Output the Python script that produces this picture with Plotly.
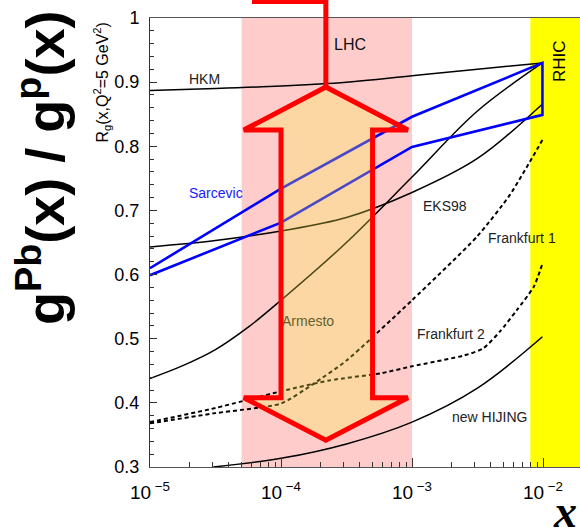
import plotly.graph_objects as go
import math

# ---------------- data ----------------
hkm_x = [1e-5, 3.16e-5, 1e-4, 3.16e-4, 1e-3, 3.16e-3, 0.0099]
hkm_y = [0.887, 0.890, 0.894, 0.900, 0.910, 0.920, 0.930]

sarc_x = [1e-5, 1e-4, 1e-3, 0.0099]
sarc_hi = [0.610, 0.734, 0.846, 0.930]
sarc_lo = [0.599, 0.681, 0.799, 0.849]

eks_x = [1e-5, 3.16e-5, 1e-4, 3.16e-4, 1e-3, 3.16e-3, 0.0099]
eks_y = [0.643, 0.653, 0.668, 0.689, 0.728, 0.781, 0.866]

arm_x = [1e-5, 1.78e-5, 3.16e-5, 5.62e-5, 1e-4, 3.16e-4, 1e-3, 3.16e-3, 0.0099]
arm_y = [0.438, 0.458, 0.483, 0.518, 0.560, 0.650, 0.752, 0.855, 0.930]

fr1_x = [1e-5, 3.16e-5, 1e-4, 1.78e-4, 3.16e-4, 1e-3, 3.16e-3, 5.62e-3, 0.0099]
fr1_y = [0.368, 0.384, 0.399, 0.430, 0.466, 0.560, 0.660, 0.725, 0.810]

fr2_x = [1e-5, 3.16e-5, 1e-4, 2.34e-4, 5.75e-4, 1e-3, 2.51e-3, 3.5e-3, 4.68e-3, 6.31e-3, 8.5e-3, 0.0099]
fr2_y = [0.370, 0.392, 0.418, 0.435, 0.446, 0.457, 0.474, 0.485, 0.511, 0.5445, 0.581, 0.617]

hij_x = [3.04e-5, 1e-4, 3.16e-4, 1e-3, 3.16e-3, 0.0099]
hij_y = [0.300, 0.3135, 0.336, 0.370, 0.423, 0.503]

# bands (x ranges)
lhc_band = [5e-5, 1e-3]
rhic_band = [8e-3, 0.0192]

# double arrow geometry (data units)
arrow_x = [2.2e-4, 9.3e-4, 5e-4, 5e-4, 9.3e-4, 2.2e-4, 5.2e-5, 1e-4, 1e-4, 5.2e-5, 2.2e-4]
arrow_y = [0.8924, 0.8253, 0.8253, 0.4080, 0.4080, 0.3417, 0.4080, 0.4080, 0.8253, 0.8253, 0.8924]
callout_x0 = 6.0e-5

# labels
lab_text = ["HKM", "Sarcevic", "EKS98", "Frankfurt 1", "Frankfurt 2", "new HIJING", "LHC"]
lab_x = [2.6e-5, 3.19e-5, 1.79e-3, 6.92e-3, 2.0e-3, 3.91e-3, 3.37e-4]
lab_y = [0.9056, 0.727, 0.7067, 0.6568, 0.507, 0.3775, 0.9594]
lab_col = ["#222", "#1a1aff", "#222", "#222", "#222", "#222", "#111"]

xtick_vals = [1e-5, 1e-4, 1e-3, 1e-2]
xtick_text = ["10<sup>\u00a0\u22125</sup>", "10<sup>\u00a0\u22124</sup>",
              "10<sup>\u00a0\u22123</sup>", "10<sup>\u00a0\u22122</sup>"]

XR = [-5.0, -1.7176]
YR = [0.3, 1.0]
FONT = "Liberation Sans, Arial, sans-serif"

fig = go.Figure()

def band(xr, color):
    fig.add_trace(go.Scatter(x=[xr[0], xr[1], xr[1], xr[0], xr[0]],
                             y=[YR[0], YR[0], YR[1], YR[1], YR[0]],
                             fill="toself", fillcolor=color, mode="lines",
                             line=dict(width=0, color=color), hoverinfo="skip"))

band(lhc_band, "#FFCCCC")
band(rhic_band, "#FFFF00")

blk = dict(color="black", width=1.5)
dsh = dict(color="black", width=2, dash="4px,3px")
fig.add_trace(go.Scatter(x=hkm_x, y=hkm_y, mode="lines", line=dict(**blk, shape="spline")))
fig.add_trace(go.Scatter(x=eks_x, y=eks_y, mode="lines", line=dict(**blk, shape="spline")))
fig.add_trace(go.Scatter(x=arm_x, y=arm_y, mode="lines", line=dict(**blk, shape="spline")))
fig.add_trace(go.Scatter(x=hij_x, y=hij_y, mode="lines", line=dict(**blk, shape="spline")))
fig.add_trace(go.Scatter(x=fr1_x, y=fr1_y, mode="lines", line=dict(**dsh, shape="spline", smoothing=0.6)))
fig.add_trace(go.Scatter(x=fr2_x, y=fr2_y, mode="lines", line=dict(**dsh, shape="spline", smoothing=0.6)))
fig.add_trace(go.Scatter(x=sarc_x + sarc_x[::-1], y=sarc_hi + sarc_lo[::-1], mode="lines",
                         line=dict(color="#0000FF", width=2.6)))

# Armesto label under the arrow fill
fig.add_trace(go.Scatter(x=[1.61e-4], y=[0.5257], mode="text", text=["Armesto"],
                         textposition="middle center",
                         textfont=dict(family=FONT, size=14, color="#222")))

# arrow
fig.add_trace(go.Scatter(x=arrow_x, y=arrow_y, mode="lines", fill="toself",
                         fillcolor="rgba(245,237,71,0.30)",
                         line=dict(color="#FF0000", width=5)))

# callout line to top
def xp(v):
    return (math.log10(v) - XR[0]) / (XR[1] - XR[0])
def yp(v):
    return (v - YR[0]) / (YR[1] - YR[0])
ytop = 1.0367
fig.add_shape(type="path", xref="paper", yref="paper",
              path=f"M {xp(callout_x0)},{ytop} L {xp(arrow_x[0])},{ytop} L {xp(arrow_x[0])},{yp(arrow_y[0])}",
              line=dict(color="#FF0000", width=5), layer="above")

for t, x, y, c in zip(lab_text, lab_x, lab_y, lab_col):
    fig.add_annotation(x=math.log10(x), y=y, text=t, showarrow=False,
                       font=dict(family=FONT, size=14 if t != "LHC" else 16, color=c),
                       xanchor="center", yanchor="middle")

fig.add_annotation(x=math.log10(0.01349), y=0.933, text="RHIC", textangle=-90, showarrow=False,
                   xanchor="center", yanchor="middle",
                   font=dict(family=FONT, size=17, color="black"))

fig.add_annotation(xref="paper", yref="paper", x=-0.112, y=0.858, textangle=-90,
                   xanchor="center", yanchor="middle",
                   text="R<sub>g</sub>(x,Q<sup>2</sup>=5 GeV<sup>2</sup>)", showarrow=False,
                   font=dict(family=FONT, size=16, color="black"))
fig.add_annotation(xref="paper", yref="paper", x=-0.2535, y=0.666, textangle=-90,
                   xanchor="center", yanchor="middle",
                   text="<b>g<sup>Pb</sup>(x) / g<sup>p</sup>(x)</b>", showarrow=False,
                   font=dict(family=FONT, size=54, color="black"))
fig.add_annotation(xref="paper", yref="paper", x=0.965, y=-0.100,
                   xanchor="center", yanchor="middle",
                   text="<b><i>x</i></b>", showarrow=False,
                   font=dict(family="Liberation Serif", size=46, color="black"))

fig.update_layout(
    width=580, height=532, margin=dict(l=150, r=0, t=18, b=65),
    paper_bgcolor="white", plot_bgcolor="white", showlegend=False,
    xaxis=dict(type="log", range=XR, tickvals=xtick_vals, ticktext=xtick_text,
               ticks="inside", ticklen=9, tickcolor="#333", showgrid=False, zeroline=False,
               showline=True, linecolor="#555", linewidth=1, mirror=True,
               tickfont=dict(family=FONT, size=19, color="black"), ticklabelstandoff=8,
               minor=dict(tickvals=[m * 10 ** e for e in range(-5, -1) for m in range(2, 10)],
                          ticks="inside", ticklen=5, tickcolor="#333")),
    yaxis=dict(range=YR, dtick=0.1, ticks="inside", ticklen=7, tickcolor="#333",
               showgrid=False, zeroline=False, showline=True, linecolor="#333", linewidth=1,
               tickfont=dict(family=FONT, size=18, color="black"), ticklabelstandoff=6,
               minor=dict(dtick=0.02, ticks="inside", ticklen=4, tickcolor="#333")),
)

fig.write_html("out.html")
